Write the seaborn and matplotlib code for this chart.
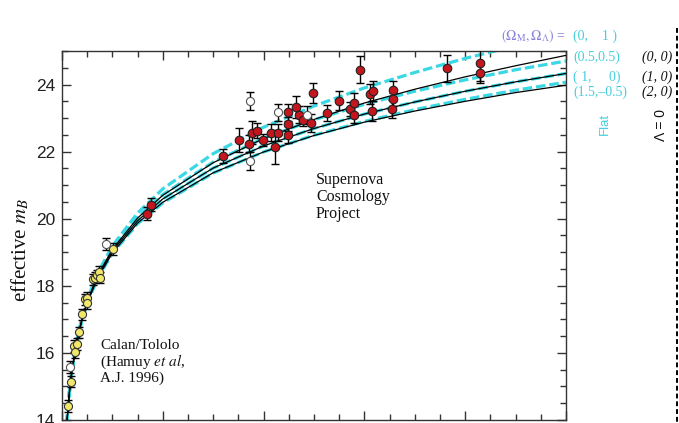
import matplotlib
matplotlib.use("Agg")
import matplotlib.pyplot as plt
from matplotlib.ticker import MultipleLocator
from matplotlib.lines import Line2D
import seaborn as sns
import numpy as np

# ---------------- data ----------------
# model curves sampled at these redshifts
z_model = [0.009, 0.01, 0.015, 0.02, 0.03, 0.04, 0.05, 0.07, 0.1, 0.15, 0.2,
           0.3, 0.4, 0.5, 0.6, 0.7, 0.8, 0.9, 1.0]
# Lambda = 0 models (black solid)
m_00 = [13.77, 14.00, 14.88, 15.51, 16.40, 17.04, 17.53, 18.29, 19.09, 20.02, 20.70,
        21.67, 22.39, 22.96, 23.45, 23.86, 24.23, 24.56, 24.87]
m_10 = [13.76, 13.99, 14.87, 15.50, 16.39, 17.02, 17.51, 18.25, 19.04, 19.94, 20.59,
        21.51, 22.17, 22.69, 23.12, 23.48, 23.80, 24.08, 24.33]
m_20 = [13.76, 13.98, 14.87, 15.49, 16.37, 16.99, 17.48, 18.21, 18.98, 19.87, 20.49,
        21.37, 21.99, 22.48, 22.88, 23.21, 23.50, 23.76, 23.98]
# flat models (cyan dashed)
m_f01 = [13.78, 14.01, 14.90, 15.53, 16.43, 17.08, 17.59, 18.36, 19.19, 20.17, 20.89,
         21.94, 22.73, 23.36, 23.90, 24.36, 24.78, 25.15, 25.49]
m_f55 = [13.77, 14.00, 14.89, 15.52, 16.41, 17.05, 17.54, 18.30, 19.11, 20.05, 20.72,
         21.69, 22.40, 22.95, 23.41, 23.80, 24.14, 24.44, 24.70]
m_f10 = m_10
m_f15 = [13.75, 13.98, 14.86, 15.48, 16.36, 16.99, 17.47, 18.20, 18.97, 19.85, 20.47,
         21.36, 21.99, 22.49, 22.90, 23.25, 23.56, 23.83, 24.07]

# Calan/Tololo supernovae (yellow)
z_ct = [0.0126, 0.0172, 0.0238, 0.0258, 0.029, 0.0344, 0.039, 0.0457, 0.049, 0.050,
        0.061, 0.066, 0.069, 0.074, 0.0755, 0.1007]
m_ct = [14.41, 15.14, 16.21, 16.03, 16.26, 16.61, 17.15, 17.60, 17.65, 17.48,
        18.19, 18.24, 18.31, 18.41, 18.24, 19.10]
e_ct = [0.18, 0.17, 0.17, 0.17, 0.17, 0.16, 0.17, 0.17, 0.17, 0.17,
        0.17, 0.17, 0.17, 0.17, 0.17, 0.17]
# Calan/Tololo open symbols
z_cto = [0.0159, 0.0874]
m_cto = [15.57, 19.25]
e_cto = [0.18, 0.18]

# Supernova Cosmology Project (red)
z_scp = [0.169, 0.177, 0.319, 0.352, 0.372, 0.377, 0.387, 0.399, 0.415, 0.423, 0.428,
         0.449, 0.449, 0.449, 0.465, 0.471, 0.479, 0.494, 0.498, 0.526, 0.550, 0.571,
         0.579, 0.580, 0.592, 0.612, 0.618, 0.615, 0.657, 0.657, 0.655, 0.763, 0.829, 0.829]
m_scp = [20.15, 20.42, 21.86, 22.35, 22.24, 22.57, 22.63, 22.35, 22.57, 22.14, 22.57,
         23.17, 22.83, 22.51, 23.33, 23.10, 22.95, 22.85, 23.74, 23.15, 23.52, 23.27,
         23.46, 23.10, 24.44, 23.72, 23.82, 23.20, 23.84, 23.56, 23.27, 24.49, 24.65, 24.34]
e_scp = [0.2, 0.2, 0.21, 0.36, 0.25, 0.35, 0.23, 0.18, 0.26, 0.5, 0.26,
         0.26, 0.2, 0.25, 0.32, 0.25, 0.2, 0.27, 0.3, 0.23, 0.28, 0.2,
         0.3, 0.25, 0.4, 0.3, 0.3, 0.3, 0.28, 0.2, 0.28, 0.4, 0.55, 0.3]
# SCP open symbols
z_scpo = [0.373, 0.373, 0.428, 0.487]
m_scpo = [23.52, 21.71, 23.17, 23.10]
e_scpo = [0.27, 0.27, 0.25, 0.27]

# ---------------- style ----------------
sns.set_theme(style="white")
plt.rcParams["font.family"] = ["Liberation Sans", "DejaVu Sans"]
plt.rcParams["mathtext.fontset"] = "stix"

W, H = 679, 423
fig = plt.figure(figsize=(W / 100, H / 100), dpi=100)
fig.patch.set_facecolor("white")
L, R, T, B = 62, 566, 51, 420
ax = fig.add_axes([L / W, 1 - B / H, (R - L) / W, (B - T) / H])
ax.set_facecolor("white")

CYAN = "#3ad8e4"
CYAN_TXT = "#45cfdc"
PURPLE = "#8a82d8"
RED = "#c3161d"
YELLOW = "#f1e86a"

# model curves
for m in [m_f01, m_f55, m_f10, m_f15]:
    sns.lineplot(x=z_model, y=m, ax=ax, color=CYAN, lw=2.3, sort=False,
                 estimator=None, zorder=2)
    ax.lines[-1].set_linestyle((0, (3.0, 1.2)))
for m in [m_00, m_10, m_20]:
    sns.lineplot(x=z_model, y=m, ax=ax, color="black", lw=0.9, sort=False,
                 estimator=None, zorder=3)

# error bars
for zz, mm, ee in [(z_ct, m_ct, e_ct), (z_cto, m_cto, e_cto),
                   (z_scp, m_scp, e_scp), (z_scpo, m_scpo, e_scpo)]:
    ax.errorbar(zz, mm, yerr=ee, fmt="none", ecolor="black", elinewidth=1.0,
                capsize=3, capthick=1.0, zorder=4)

# markers
sns.scatterplot(x=z_ct, y=m_ct, ax=ax, s=34, color=YELLOW, edgecolor="#333333",
                linewidth=0.8, zorder=5)
sns.scatterplot(x=z_cto, y=m_cto, ax=ax, s=34, color="white", edgecolor="#555555",
                linewidth=0.8, zorder=5)
sns.scatterplot(x=z_scp, y=m_scp, ax=ax, s=38, color=RED, edgecolor="#222222",
                linewidth=0.8, zorder=5)
sns.scatterplot(x=z_scpo, y=m_scpo, ax=ax, s=34, color="white", edgecolor="#555555",
                linewidth=0.8, zorder=5)

ax.set_xlim(0, 1.0)
ax.set_ylim(14, 25)
ax.xaxis.set_major_locator(MultipleLocator(0.2))
ax.xaxis.set_minor_locator(MultipleLocator(0.05))
ax.yaxis.set_major_locator(MultipleLocator(2))
ax.yaxis.set_minor_locator(MultipleLocator(0.5))
ax.tick_params(which="both", direction="in", top=True, right=True, bottom=True,
               left=True, labelbottom=False, color="#333333", width=1.0)
ax.tick_params(which="major", length=6.5, labelsize=12.5, pad=5, labelcolor="#222222")
ax.tick_params(which="minor", length=4)
for s in ax.spines.values():
    s.set_color("#333333")
    s.set_linewidth(1.0)
ax.set_xlabel("")
ax.set_ylabel(r"effective $m_B$", fontfamily="Liberation Serif", fontsize=15,
              color="#111111")
ax.yaxis.set_label_coords((31 - L) / (R - L), (B - 250) / (B - T))


def ftext(x, y, s, **kw):
    fig.text(x / W, 1 - y / H, s, **kw)


serif = "Liberation Serif"
# Calan/Tololo annotation
ftext(100, 349, "Calan/Tololo", fontfamily=serif, fontsize=11, va="baseline", color="#111111")
ftext(100, 365.5, r"(Hamuy $\mathit{et\ al}$,", fontfamily=serif, fontsize=11, va="baseline", color="#111111")
ftext(100, 382, "A.J. 1996)", fontfamily=serif, fontsize=11, va="baseline", color="#111111")
# SCP annotation
ftext(316, 184, "Supernova", fontfamily=serif, fontsize=11.5, va="baseline", color="#111111")
ftext(316, 201, "Cosmology", fontfamily=serif, fontsize=11.5, va="baseline", color="#111111")
ftext(316, 218, "Project", fontfamily=serif, fontsize=11.5, va="baseline", color="#111111")

# right-hand model labels
ftext(501, 36, r"$(\Omega_{\rm M},\Omega_\Lambda)$ =", fontfamily=serif, fontsize=10,
      va="center", color=PURPLE)
ftext(573, 36, "(0,    1 )", fontfamily=serif, fontsize=10, va="center", color=CYAN_TXT)
ftext(573, 57, "(0.5,0.5)", fontfamily=serif, fontsize=10, va="center", color=CYAN_TXT)
ftext(573, 77, "( 1,     0)", fontfamily=serif, fontsize=10, va="center", color=CYAN_TXT)
ftext(573, 92, "(1.5,\u20130.5)", fontfamily=serif, fontsize=10, va="center", color=CYAN_TXT)
ftext(642, 57, "(0, 0)", fontfamily=serif, fontstyle="italic", fontsize=10, va="center", color="#111111")
ftext(642, 77, "(1, 0)", fontfamily=serif, fontstyle="italic", fontsize=10, va="center", color="#111111")
ftext(642, 92, "(2, 0)", fontfamily=serif, fontstyle="italic", fontsize=10, va="center", color="#111111")
ftext(605, 124, "Flat", fontfamily="Liberation Sans", fontsize=9.5, rotation=90,
      ha="center", va="center", color=CYAN_TXT)
ftext(661, 125, "\u039b = 0", fontfamily="Liberation Sans", fontsize=10, rotation=90,
      ha="center", va="center", color="#111111")

# dashed bracket line at the far right
fig.add_artist(Line2D([676.5 / W, 676.5 / W], [1 - 28 / H, 0], transform=fig.transFigure,
                      color="black", lw=1.4, linestyle=(0, (2.5, 1.5))))

fig.savefig("out.png", dpi=100)
